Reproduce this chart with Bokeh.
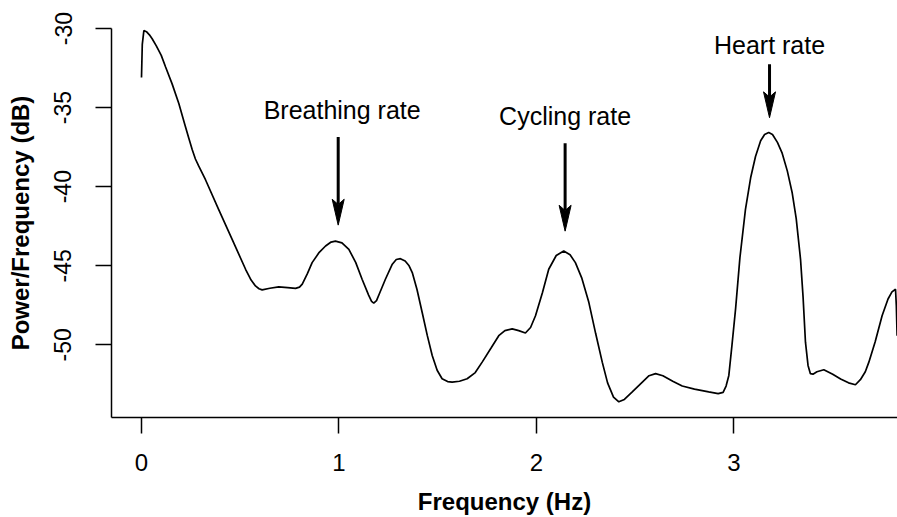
from bokeh.plotting import figure
from bokeh.models import Range1d, FixedTicker, PrintfTickFormatter
from bokeh.core.properties import value
from bokeh.embed import file_html
from bokeh.resources import INLINE

# ---- data ----
freq = [0.000, 0.004, 0.012, 0.025, 0.040, 0.054, 0.075, 0.100, 0.122, 0.155,
        0.189, 0.220, 0.240, 0.257, 0.273, 0.290, 0.324, 0.391, 0.459, 0.527,
        0.555, 0.577, 0.595, 0.611, 0.650, 0.695, 0.740, 0.780, 0.800, 0.814,
        0.840, 0.864, 0.900, 0.932, 0.960, 0.982, 1.015, 1.050, 1.085, 1.117,
        1.150, 1.165, 1.176, 1.190, 1.205, 1.235, 1.270, 1.290, 1.311, 1.335,
        1.355, 1.371, 1.395, 1.421, 1.447, 1.472, 1.497, 1.522, 1.550, 1.573,
        1.610, 1.649, 1.690, 1.725, 1.770, 1.809, 1.840, 1.877, 1.910, 1.944,
        1.970, 1.995, 2.030, 2.062, 2.100, 2.138, 2.170, 2.197, 2.230, 2.265,
        2.300, 2.333, 2.360, 2.390, 2.417, 2.445, 2.485, 2.540, 2.570, 2.603,
        2.640, 2.690, 2.738, 2.800, 2.872, 2.920, 2.945, 2.960, 2.974, 2.990,
        3.008, 3.030, 3.058, 3.085, 3.109, 3.135, 3.155, 3.176, 3.195, 3.220,
        3.244, 3.270, 3.295, 3.315, 3.337, 3.350, 3.362, 3.375, 3.387, 3.400,
        3.420, 3.455, 3.500, 3.540, 3.580, 3.615, 3.640, 3.665, 3.683, 3.715,
        3.750, 3.780, 3.800, 3.818, 3.822, 3.826]
power = [-33.10, -31.00, -30.13, -30.20, -30.40, -30.65, -31.10, -31.70, -32.43, -33.50,
         -34.74, -36.10, -36.95, -37.67, -38.25, -38.70, -39.56, -41.45, -43.33, -45.22,
         -45.90, -46.27, -46.45, -46.52, -46.42, -46.33, -46.38, -46.43, -46.35, -46.16,
         -45.50, -44.80, -44.15, -43.75, -43.50, -43.44, -43.55, -43.96, -44.80, -45.85,
         -46.85, -47.25, -47.36, -47.20, -46.75, -45.85, -44.90, -44.60, -44.55, -44.70,
         -45.00, -45.43, -46.50, -47.94, -49.40, -50.67, -51.60, -52.14, -52.32, -52.35,
         -52.30, -52.14, -51.75, -51.09, -50.20, -49.42, -49.10, -48.99, -49.10, -49.25,
         -48.90, -48.16, -46.70, -45.22, -44.35, -44.07, -44.30, -44.80, -45.80, -47.31,
         -49.30, -51.09, -52.40, -53.30, -53.60, -53.45, -52.97, -52.30, -51.95, -51.82,
         -51.95, -52.30, -52.60, -52.80, -52.97, -53.08, -53.00, -52.60, -51.93, -50.00,
         -47.74, -44.50, -41.45, -39.40, -38.09, -37.10, -36.70, -36.58, -36.70, -37.20,
         -37.88, -39.00, -40.40, -42.00, -44.59, -47.00, -49.83, -51.30, -51.82, -51.85,
         -51.70, -51.57, -51.85, -52.15, -52.40, -52.52, -52.20, -51.70, -51.09, -49.80,
         -48.16, -47.10, -46.65, -46.48, -47.50, -49.42]

x_ticks = [0, 1, 2, 3]
y_ticks = [-50, -45, -40, -35, -30]

labels = ["Breathing rate", "Cycling rate", "Heart rate"]
label_x = [1.016, 2.145, 3.180]
label_y = [-35.14, -35.50, -31.05]

arrow_x = [0.996, 2.145, 3.180]
arrow_top = [-36.86, -37.25, -32.26]
arrow_tip = [-42.43, -42.81, -35.64]

# ---- figure ----
p = figure(width=897, height=517, output_backend="svg", toolbar_location=None,
           x_range=Range1d(-0.1519, 3.828), y_range=Range1d(-54.59, -30.0),
           min_border_left=111, min_border_right=0, min_border_top=28,
           min_border_bottom=98)
p.grid.visible = False
p.outline_line_color = None
p.background_fill_color = "white"
p.border_fill_color = "white"

FONT = "Liberation Sans"

for ax in (p.xaxis[0], p.yaxis[0]):
    ax.major_tick_out = 16
    ax.major_tick_in = 0
    ax.minor_tick_line_color = None
    ax.axis_line_width = 1.5
    ax.major_tick_line_width = 1.5
    ax.axis_line_color = "black"
    ax.major_tick_line_color = "black"
    ax.major_label_text_font = FONT
    ax.major_label_text_color = "black"
    ax.axis_label_text_font = FONT
    ax.axis_label_text_font_style = "bold"
    ax.axis_label_text_color = "black"

p.xaxis.ticker = FixedTicker(ticks=x_ticks)
p.yaxis.ticker = FixedTicker(ticks=y_ticks)
p.xaxis.formatter = PrintfTickFormatter(format="%d")
p.yaxis.formatter = PrintfTickFormatter(format="%d")
p.xaxis.major_label_text_font_size = "24px"
p.yaxis.major_label_text_font_size = "23px"
p.yaxis.major_label_orientation = "vertical"
p.xaxis.major_label_standoff = 20
p.yaxis.major_label_standoff = 24
p.xaxis.axis_label = "Frequency (Hz)"
p.yaxis.axis_label = "Power/Frequency (dB)"
p.xaxis.axis_label_text_font_size = "24px"
p.yaxis.axis_label_text_font_size = "24px"
p.xaxis.axis_label_standoff = 14
p.yaxis.axis_label_standoff = 18

# spectrum
p.line(freq, power, line_color="black", line_width=1.7)

# annotation labels
p.text(x=label_x, y=label_y, text=labels, text_align="center",
       text_baseline="alphabetic", text_font=value(FONT),
       text_font_size="25px", text_color="black")

# arrows: shafts + filled heads (head size in px converted to data units)
px_per_hz = 197.5
px_per_db = 15.9
head_len = 26 / px_per_db
head_half = 6 / px_per_hz
notch = 0.8 * head_len

shaft_bottom = [t + notch for t in arrow_tip]
p.segment(x0=arrow_x, y0=arrow_top, x1=arrow_x, y1=shaft_bottom,
          line_color="black", line_width=3)

hx, hy = [], []
for ax_, tip in zip(arrow_x, arrow_tip):
    hx.append([ax_, ax_ - head_half, ax_, ax_ + head_half])
    hy.append([tip, tip + head_len, tip + notch, tip + head_len])
p.patches(hx, hy, fill_color="black", line_color="black", line_width=1)

open("out.html", "w").write(file_html(p, INLINE))
